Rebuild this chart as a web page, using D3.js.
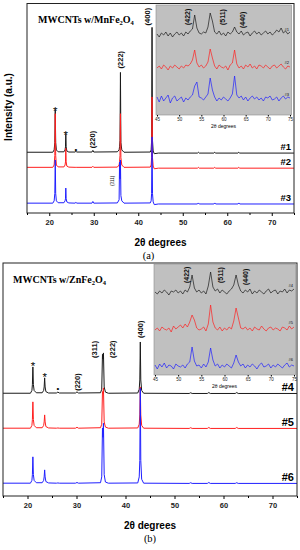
<!DOCTYPE html>
<html>
<head>
<meta charset="UTF-8">
<title>XRD MWCNTs ferrites</title>
<script src="https://cdn.jsdelivr.net/npm/d3@7/dist/d3.min.js"></script>
<style>
  body { margin: 0; background: #fff; }
  svg { display: block; }
</style>
</head>
<body>
<script>
// ---- panel (a): MWCNTs w/MnFe2O4, 2theta grid and intensities (a.u., above each baseline)
var thetaA = [15, 20.8, 21.1, 21.25, 21.35, 21.45, 21.6, 22, 23.3, 23.55, 23.65, 23.72, 23.8, 23.95, 24.4, 25.8, 26, 26.2,
              29.6, 29.8, 30, 35.3, 35.7, 35.8, 35.9, 36.0, 36.1, 36.3, 36.8, 42.7, 42.9, 43.0, 43.1, 43.2, 43.35, 43.6,
              44.5, 53.3, 53.5, 53.7, 57, 57.2, 57.4, 62.4, 62.6, 62.8, 75];
var mn1 = [0.4,0.4,1.5,5,20.5,5,1.5,0.6,0.6,1.5,3,9,3,1,0.5,0.5,0.9,0.5,0.5,1.3,0.5,0.6,1.5,3,6,38.5,5,1.5,0.4,0.5,
           1.5,6,60,6,1,-0.3,0,0,0.4,0,0,0.4,0,0,0.4,0,0];
var mn2 = [0.4,0.4,1.5,6,26,6,1.5,0.6,0.6,1.5,3,9.5,3,1,0.5,0.4,0.4,0.4,0.4,0.9,0.4,0.5,1.5,3,6,26,5,1.5,0.4,0.5,
           1.5,5,34,5,1,-0.3,0,0,0.4,0,0,0.4,0,0,0.4,0,0];
var mn3 = [0.4,0.4,1.5,5,21,5,1.5,0.6,0.6,1.5,2.5,7.6,2.5,1,0.5,0.4,0.8,0.4,0.4,1.2,0.4,0.5,2,20,12,21,4,1.5,0.4,0.5,
           1.5,5,32,5,1,-0.3,0,0,0.5,0,0,0.5,0,0,0.5,0,0];
var offsetsA = [28.6, 21.4, 4.3];
var namesA = ["#1", "#2", "#3"];

// inset (a): 45-75 degrees, every 0.5 degree
var zoomMn1 = [1,-2,2,0,3,-1,2,-2,1,3, 0,2,-1,3,1,4,6,20,7,2, 1,3,2,8,22,14,3,1,4,0,
               2,-1,3,1,3,8,3,1,4,0, 2,3,-1,2,4,1,3,0,2,4, 1,3,0,2,5,3,7,2,4,1, 3];
var zoomMn2 = [0,2,-1,3,1,-2,2,0,3,1, -1,2,0,3,2,4,8,18,5,1, 3,0,2,6,19,10,2,-1,3,1,
               0,2,-2,3,5,18,4,0,2,-1, 3,1,4,0,2,-1,3,2,0,3, 1,-1,2,3,0,2,4,1,-1,2, 1];
var zoomMn3 = [3,-2,4,-1,2,5,-3,2,4,-1, 1,3,-2,2,0,3,5,14,18,3, 2,0,3,6,22,10,3,-1,2,0,
               3,1,-1,2,6,24,5,2,4,0, 3,-1,2,4,1,3,0,2,-1,3, 2,4,0,1,3,-1,2,4,1,3, 2];
var zoomOffsetsA = [80, 47, 15];

// ---- panel (b): MWCNTs w/ZnFe2O4
var thetaB = [15, 20.6, 20.9, 21.0, 21.1, 21.2, 21.35, 21.8, 23.0, 23.3, 23.4, 23.5, 23.6, 23.75, 24.3, 25.9, 26.2, 26.5,
              29.8, 30.1, 30.4, 34.9, 35.15, 35.3, 35.4, 35.5, 35.65, 35.9, 36.5, 42.5, 42.8, 42.92, 43.02, 43.12, 43.3,
              43.7, 53, 53.3, 53.6, 56.7, 57, 57.3, 62.4, 62.7, 63, 75];
var zn4 = [0.3,0.3,1.5,4,11.6,4,1.5,0.5,0.5,1.5,3,6.9,3,1,0.4,0.4,0.8,0.4,0.4,0.9,0.4,0.5,2,17,15,17.6,3,0.8,0.3,0.4,
           2,6,22.3,6,1.5,0.3,0.2,0.5,0.2,0.2,0.6,0.2,0.2,0.6,0.2,0.2];
var zn5 = [0.3,0.3,1.5,4,11.6,4,1.5,0.5,0.5,1.5,3,6,3,1,0.4,0.3,0.4,0.3,0.3,0.7,0.3,0.5,2,16,15,17.6,3,0.8,0.3,0.4,
           2,6,18,6,1.5,0.3,0.2,0.5,0.2,0.2,0.6,0.2,0.2,0.6,0.2,0.2];
var zn6 = [0.3,0.3,1.5,4,11.6,4,1.5,0.5,0.5,1.5,3,6,3,1,0.4,0.3,0.4,0.3,0.3,0.6,0.3,0.5,3,24,20,26,4,0.8,0.3,0.4,
           3,10,41,10,2,0.3,0.2,0.5,0.2,0.2,0.6,0.2,0.2,0.5,0.2,0.2];
var offsetsB = [43.8, 28.8, 5.2];
var namesB = ["#4", "#5", "#6"];

var zoomZn4 = [1,-1,2,0,3,1,-2,2,1,3, 0,2,-1,3,1,6,18,5,1,3, 0,2,-1,7,21,6,2,4,0,3,
               1,-1,2,4,8,18,8,2,0,3, 1,4,-1,2,0,3,1,-1,2,4, 0,2,3,-1,2,1,4,0,3,2, 4];
var zoomZn5 = [0,2,-1,3,1,0,2,-2,4,1, 3,5,2,6,3,8,15,10,2,0, 1,3,-1,6,25,8,2,0,3,-1,
               2,0,3,1,9,22,12,2,1,3, 0,2,-1,3,1,0,4,1,-1,2, 3,0,2,1,-1,3,2,0,4,1, 3];
var zoomZn6 = [2,-2,3,0,4,-1,2,1,-2,3, 1,0,2,-1,3,5,20,6,1,2, -1,3,0,5,19,7,1,3,-1,2,
               0,3,1,-1,4,12,5,1,3,-1, 2,0,3,1,-2,2,4,0,1,3, -1,2,0,3,1,-1,2,4,0,2, 1];
var zoomOffsetsB = [82, 45, 8];

// ticks and labels
var majorTicks = [20, 30, 40, 50, 60, 70];
var minorTicks = [15, 25, 35, 45, 55, 65, 75];
var zoomTicks = [45, 50, 55, 60, 65, 70, 75];
var zoomPeaks = ["(422)", "(511)", "(440)"];
var zoomPeakThetaA = [52.0, 59.7, 64.2];
var zoomPeakLevelA = [90, 90, 87];
var zoomPeakThetaB = [51.8, 59.2, 64.6];
var zoomPeakLevelB = [92, 92, 90];

// main peak marks: [text, 2theta]
var marksA = [["*", 21.35], ["*", 23.72], ["\u2022", 26.0], ["(220)", 29.8], ["(222)", 36.0], ["(400)", 43.1]];
var marksB = [["*", 21.1], ["*", 23.5], ["\u2022", 26.2], ["(220)", 30.1], ["(311)", 35.4], ["(222)", 35.4], ["(400)", 43.02]];

var colors = ["#1a1a1a", "#ff1f1f", "#1f1fff"];
var sans = "'Liberation Sans', Arial, sans-serif";
var serif = "'Liberation Serif', 'Times New Roman', serif";

var svg = d3.select("body").append("svg").attr("width", 300).attr("height", 550);

function drawPanel(p) {
    var g = svg.append("g");
    var x = d3.scaleLinear().domain([15, 75]).range([p.left, p.right]);
    var y = d3.scaleLinear().domain([0, 100]).range([p.bottom, p.top]);

    // traces
    p.series.forEach(function (s, k) {
        var line = d3.line()
            .x(function (d, i) { return x(p.theta[i]); })
            .y(function (d) { return y(d + p.offsets[k]); });
        g.append("path").datum(s).attr("d", line)
            .attr("fill", "none").attr("stroke", colors[k]).attr("stroke-width", 1);
        g.append("text").text(p.names[k])
            .attr("x", p.right - 3).attr("y", y(p.offsets[k]) - 3)
            .attr("text-anchor", "end").attr("font-family", sans)
            .attr("font-weight", "bold").attr("font-size", p.nameSize);
    });

    // frame
    g.append("rect").attr("x", p.left).attr("y", p.top)
        .attr("width", p.right - p.left).attr("height", p.bottom - p.top)
        .attr("fill", "none").attr("stroke", "#222").attr("stroke-width", 1);

    // x axis
    var ax = g.append("g").attr("transform", "translate(0," + p.bottom + ")")
        .call(d3.axisBottom(x).tickValues(majorTicks).tickSize(3).tickPadding(4).tickSizeOuter(0));
    ax.select(".domain").remove();
    ax.selectAll("text").attr("font-family", sans).attr("font-weight", "bold").attr("font-size", 7.5).attr("fill", "#222");
    var mx = g.append("g").attr("transform", "translate(0," + p.bottom + ")")
        .call(d3.axisBottom(x).tickValues(minorTicks).tickSize(2).tickFormat("").tickSizeOuter(0));
    mx.select(".domain").remove();

    g.append("text").text("2\u03b8 degrees")
        .attr("x", (p.left + p.right) / 2).attr("y", p.bottom + 32.5)
        .attr("text-anchor", "middle").attr("font-family", sans)
        .attr("font-weight", "bold").attr("font-size", 10);
    g.append("text").text(p.caption)
        .attr("x", (p.left + p.right) / 2 - 11 + p.capShift).attr("y", p.bottom + 45.5)
        .attr("text-anchor", "middle").attr("font-family", serif).attr("font-size", 10.5);

    // title
    var t = g.append("text").attr("x", p.titleX).attr("y", p.top + 19.5)
        .attr("font-family", serif).attr("font-weight", "bold").attr("font-size", 10);
    t.append("tspan").text(p.title);
    t.append("tspan").text("2").attr("font-size", 6.5).attr("dy", 2);
    t.append("tspan").text("O").attr("dy", -2);
    t.append("tspan").text("4").attr("font-size", 6.5).attr("dy", 2);

    // peak marks, placed over the top trace
    var top = p.series[0];
    function peakAt(th) {
        var best = 0;
        p.theta.forEach(function (v, i) { if (Math.abs(v - th) < 0.35) best = Math.max(best, top[i]); });
        return y(best + p.offsets[0]);
    }
    p.marks.forEach(function (m, i) {
        var st = p.markStyle[i];
        var py = peakAt(m[1]);
        if (m[0] === "*") {
            g.append("text").text("*").attr("x", x(m[1])).attr("y", py + st.gap)
                .attr("text-anchor", "middle").attr("font-family", sans)
                .attr("font-size", 11.5);
        } else if (m[0] === "\u2022") {
            g.append("text").text("\u2022").attr("x", x(m[1])).attr("y", py + st.gap)
                .attr("text-anchor", "middle").attr("font-family", sans).attr("font-size", 8);
        } else {
            g.append("text").text(m[0])
                .attr("transform", "translate(" + (x(m[1]) + st.dx) + "," + (py - st.gap) + ") rotate(-90)")
                .attr("dy", "0.35em").attr("font-family", sans)
                .attr("font-weight", "bold").attr("font-size", 7.5).attr("fill", "#111");
        }
    });

    // inset
    var z = p.zoom;
    var zx = d3.scaleLinear().domain([45, 75]).range([z.left, z.right]);
    var zy = d3.scaleLinear().domain([0, z.span]).range([z.bottom, z.bottom - z.span]);
    g.append("rect").attr("x", z.left - 1).attr("y", z.bottom - z.span)
        .attr("width", z.right - z.left + 2.5).attr("height", z.span)
        .attr("fill", "#c0c0c0").attr("stroke", "#8a8a8a").attr("stroke-width", 0.6);
    z.series.forEach(function (s, k) {
        var n = s.length;
        var line = d3.line()
            .x(function (d, i) { return zx(45 + i * 30 / (n - 1)); })
            .y(function (d) { return zy(d + z.offsets[k]); });
        g.append("path").datum(s).attr("d", line)
            .attr("fill", "none").attr("stroke", colors[k]).attr("stroke-width", 0.7);
        g.append("text").text(p.names[k])
            .attr("x", z.right - 1).attr("y", zy(z.offsets[k] + z.nameLift))
            .attr("text-anchor", "end").attr("font-family", sans).attr("font-size", 4);
    });
    var za = g.append("g").attr("transform", "translate(0," + z.bottom + ")")
        .call(d3.axisBottom(zx).tickValues(zoomTicks).tickSize(1.5).tickPadding(1).tickSizeOuter(0));
    za.select(".domain").remove();
    za.selectAll("text").attr("font-family", sans).attr("font-size", 4.5).attr("fill", "#222");
    g.append("text").text("2\u03b8 degrees")
        .attr("x", (z.left + z.right) / 2).attr("y", z.bottom + 12.5)
        .attr("text-anchor", "middle").attr("font-family", sans).attr("font-size", 5);
    zoomPeaks.forEach(function (lab, i) {
        g.append("text").text(lab)
            .attr("transform", "translate(" + zx(z.peakTheta[i]) + "," + zy(z.peakLevel[i]) + ") rotate(-90)")
            .attr("dy", "0.35em").attr("font-family", sans)
            .attr("font-weight", "bold").attr("font-size", 7).attr("fill", "#111");
    });

    if (p.ylabel) {
        g.append("text").text(p.ylabel)
            .attr("transform", "translate(11.5,107) rotate(-90)")
            .attr("text-anchor", "middle").attr("font-family", sans)
            .attr("font-weight", "bold").attr("font-size", 10);
    }
    return { x: x, y: y };
}

var pa = drawPanel({
    left: 27, right: 294, top: 3.5, bottom: 213,
    theta: thetaA, series: [mn1, mn2, mn3], offsets: offsetsA, names: namesA, nameSize: 9.5,
    caption: "(a)", capShift: -1, title: "MWCNTs w/MnFe", titleX: 38, ylabel: "Intensity (a.u.)",
    marks: marksA,
    markStyle: [{ gap: 4.5 }, { gap: 4.5 }, { gap: 1 }, { dx: 0, gap: 2 }, { dx: 0, gap: 4 }, { dx: -5, gap: 2 }],
    zoom: { left: 157, right: 290, bottom: 115, span: 110, series: [zoomMn1, zoomMn2, zoomMn3],
            offsets: zoomOffsetsA, nameLift: 4.5, peakTheta: zoomPeakThetaA, peakLevel: zoomPeakLevelA }
});

var pb = drawPanel({
    left: 3, right: 297, top: 263, bottom: 496,
    theta: thetaB, series: [zn4, zn5, zn6], offsets: offsetsB, names: namesB, nameSize: 11,
    caption: "(b)", capShift: 11, title: "MWCNTs w/ZnFe", titleX: 13, ylabel: null,
    marks: marksB,
    markStyle: [{ gap: 3 }, { gap: 3.5 }, { gap: -1 }, { dx: 0, gap: 1 }, { dx: -9, gap: -5 }, { dx: 9, gap: -5 }, { dx: 0, gap: 4 }],
    zoom: { left: 155, right: 294, bottom: 375, span: 111, series: [zoomZn4, zoomZn5, zoomZn6],
            offsets: zoomOffsetsB, nameLift: 6, peakTheta: zoomPeakThetaB, peakLevel: zoomPeakLevelB }
});

// small (311) note beside the blue (a) peak
svg.append("text").text("(311)")
    .attr("transform", "translate(" + (pa.x(36.0) - 8) + "," + pa.y(offsetsA[2] + 8.6) + ") rotate(-90)")
    .attr("dy", "0.35em").attr("font-family", sans).attr("font-size", 4.5).attr("fill", "#111");
</script>
</body>
</html>
